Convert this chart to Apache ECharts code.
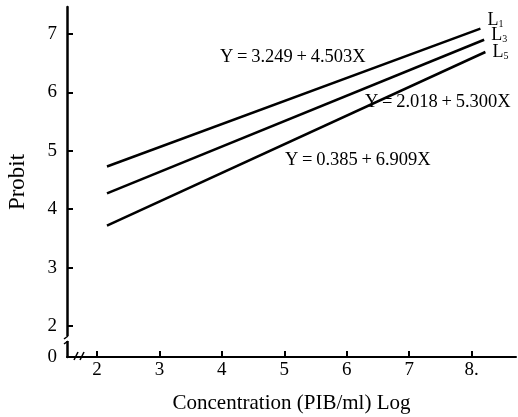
<!DOCTYPE html>
<html><head><meta charset="utf-8">
<script src="https://cdn.jsdelivr.net/npm/echarts@6/dist/echarts.min.js"></script>
<style>html,body{margin:0;padding:0;background:#fff}#c{width:518px;height:417px}</style>
</head><body><div id="c"></div>
<script>
const xTicks = [2, 3, 4, 5, 6, 7, 8];
const yTicks = [2, 3, 4, 5, 6, 7];
const yBottomLabel = 1.47;
const lineNames = ['L1', 'L3', 'L5'];
const L1 = [[2.16, 4.73], [8.14, 7.09]];
const L3 = [[2.16, 4.27], [8.20, 6.90]];
const L5 = [[2.16, 3.72], [8.22, 6.69]];
const equations = ['Y\u2009=\u20093.249\u2009+\u20094.503X', 'Y\u2009=\u20092.018\u2009+\u20095.300X', 'Y\u2009=\u20090.385\u2009+\u20096.909X'];

const F = '"Liberation Serif","Times New Roman",serif';
const chart = echarts.init(document.getElementById('c'), null, {renderer: 'canvas'});
function mkSeries(name, data, off) {
  return {
    name, type: 'line', data, symbol: 'none', silent: true,
    lineStyle: {color: '#000', width: 2.5},
    endLabel: {show: true, formatter: '{a|L}{b|' + name.slice(1) + '}', distance: 7, offset: off,
      rich: {a: {fontFamily: F, fontSize: 18, color: '#000'},
             b: {fontFamily: F, fontSize: 10, color: '#000', verticalAlign: 'bottom', padding: [6, 0, 0, 0]}}}
  };
}
chart.setOption({
  animation: false,
  grid: {left: 67, right: 2, top: 7, bottom: 60, containLabel: false, outerBoundsMode: 'none'},
  xAxis: {
    type: 'value', min: 1.52, max: 8.71,
    axisLine: {lineStyle: {color: '#000', width: 2}},
    axisTick: {inside: true, length: 6, lineStyle: {color: '#000', width: 2}, customValues: xTicks},
    axisLabel: {customValues: xTicks, color: '#000', fontFamily: F, fontSize: 19, margin: 4,
      formatter: v => v === 8 ? '8.' : String(v)},
    splitLine: {show: false},
    name: 'Concentration (PIB/ml) Log', nameLocation: 'middle', nameGap: 36,
    nameTextStyle: {color: '#000', fontFamily: F, fontSize: 21}
  },
  yAxis: {
    type: 'value', min: 1.47, max: 7.46,
    axisLine: {show: true, lineStyle: {color: '#000', width: 2.5}},
    axisTick: {show: true, inside: true, length: 6, lineStyle: {color: '#000', width: 2}, customValues: yTicks},
    axisLabel: {customValues: [yBottomLabel].concat(yTicks), color: '#000', fontFamily: F, fontSize: 19, margin: 10,
      formatter: v => v === yBottomLabel ? '0' : String(v)},
    splitLine: {show: false},
    name: 'Probit', nameLocation: 'middle', nameGap: 38,
    nameTextStyle: {color: '#000', fontFamily: F, fontSize: 23}
  },
  graphic: [
    {type: 'text', x: 220, y: 48, style: {text: equations[0], font: '18.5px ' + F, fill: '#000'}, z: 10},
    {type: 'text', x: 365, y: 93, style: {text: equations[1], font: '18.5px ' + F, fill: '#000'}, z: 10},
    {type: 'text', x: 285, y: 151, style: {text: equations[2], font: '18.5px ' + F, fill: '#000'}, z: 10},
    {type: 'rect', shape: {x: 63, y: 336, width: 8, height: 5}, style: {fill: '#fff'}, z: 20},
    {type: 'line', shape: {x1: 64, y1: 339, x2: 68, y2: 336}, style: {stroke: '#000', lineWidth: 1.5}, z: 21},
    {type: 'line', shape: {x1: 64, y1: 344, x2: 68, y2: 341}, style: {stroke: '#000', lineWidth: 1.5}, z: 21},
    {type: 'line', shape: {x1: 74, y1: 360, x2: 78, y2: 352}, style: {stroke: '#000', lineWidth: 1.5}, z: 21},
    {type: 'line', shape: {x1: 80, y1: 360, x2: 84, y2: 352}, style: {stroke: '#000', lineWidth: 1.5}, z: 21}
  ],
  series: [mkSeries(lineNames[0], L1, [0, -8]), mkSeries(lineNames[1], L3, [0, -4]), mkSeries(lineNames[2], L5, [0, 0])]
});
</script></body></html>
